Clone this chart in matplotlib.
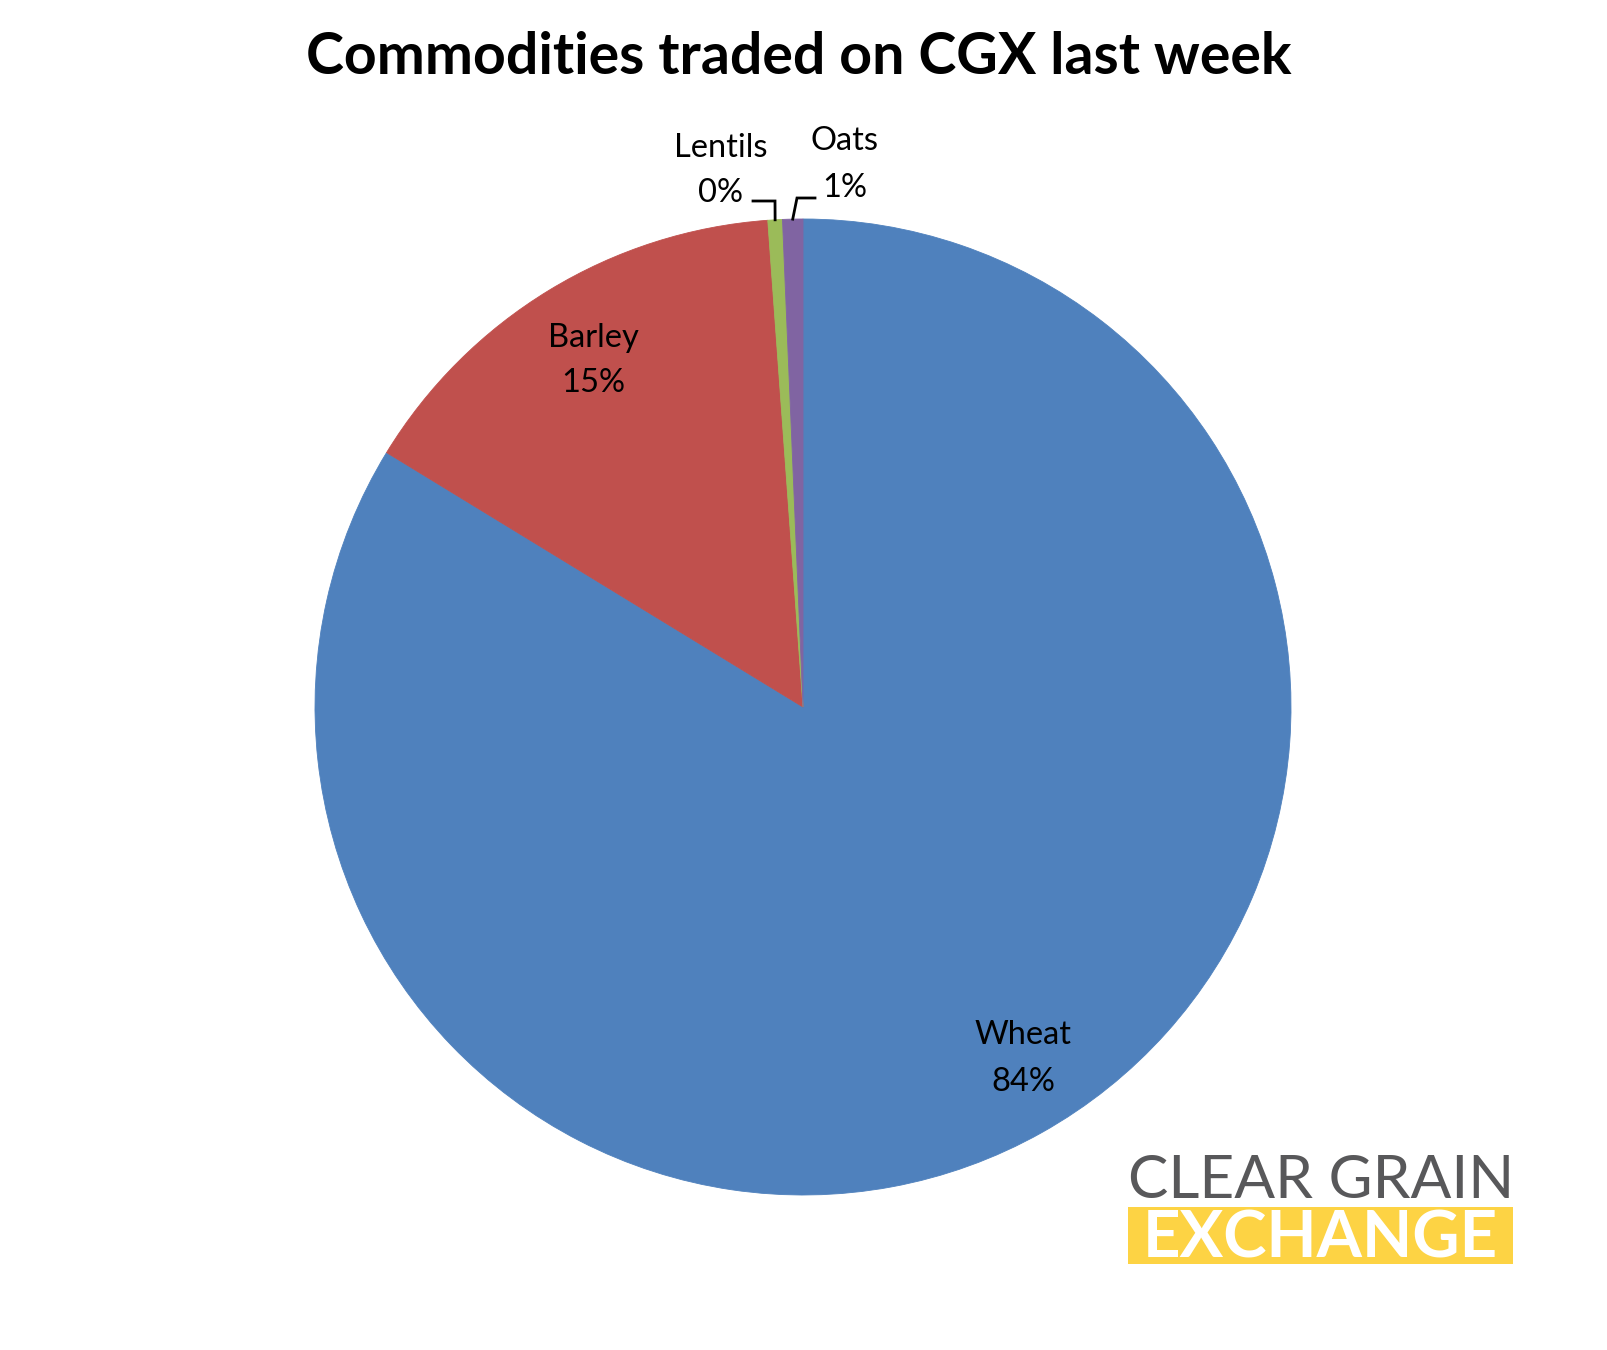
import numpy as np
import matplotlib
matplotlib.use("Agg")
import matplotlib.pyplot as plt
from matplotlib.patches import Rectangle

# ---- data ----
categories = ["Wheat", "Barley", "Lentils", "Oats"]
shares = [83.73, 15.12, 0.48, 0.67]
colors = ["#4F81BD", "#C0504D", "#9BBB59", "#8064A2"]
title = "Commodities traded on CGX last week"

W, H = 1608, 1350
DPI = 100
fig = plt.figure(figsize=(W / DPI, H / DPI), dpi=DPI)
ax = fig.add_axes([0, 0, 1, 1])

def Y(y):
    return H - y

cx, cy, R = 803, 707, 488
wedges, _ = ax.pie(shares, colors=colors, startangle=90, counterclock=False,
                   center=(cx, Y(cy)), radius=R,
                   wedgeprops=dict(linewidth=0.6, antialiased=True))
for w, c in zip(wedges, colors):
    w.set_edgecolor(c)
ax.set_xlim(0, W)
ax.set_ylim(0, H)
ax.set_aspect("auto")
ax.axis("off")

renderer = fig.canvas.get_renderer()

def fit(t, width):
    fs = t.get_fontsize()
    w = t.get_window_extent(renderer).width
    t.set_fontsize(fs * width / w)

# title
tt = ax.text(799, Y(74), title, ha="center", va="baseline",
             fontfamily="Lato", fontweight="bold", fontsize=40, color="black")
fit(tt, 985)

total = sum(shares)
pct = [f"{round(v / total * 100):d}%" for v in shares]

# label positions (pixel coords: x centre, name baseline, pct baseline)
label_pos = {
    "Wheat": (1023, 1044, 1091),
    "Barley": (593, 347, 392),
    "Lentils": (721, 157, 202),
    "Oats": (845, 150, 197),
}
LFS = 23.5
for name, p in zip(categories, pct):
    x, b1, b2 = label_pos[name]
    ax.text(x, Y(b1), name, ha="center", va="baseline", fontfamily="Lato",
            fontsize=LFS, color="black")
    ax.text(x, Y(b2), p, ha="center", va="baseline", fontfamily="Lato",
            fontsize=LFS, color="black")

# leader lines for the small slices
theta = np.cumsum([0] + shares) / total * 360.0
leaders = {2: (753, 201, 775), 3: (815, 198, 797)}
for i, (x0, y0, xk) in leaders.items():
    mid = 90 - (theta[i] + theta[i + 1]) / 2.0
    ex = cx + R * np.cos(np.radians(mid))
    ey = Y(cy) + R * np.sin(np.radians(mid))
    ax.plot([x0, xk, ex], [Y(y0), Y(y0), ey], color="black", lw=2,
            solid_joinstyle="miter")

# logo
t1 = ax.text(1128, Y(1198), "CLEAR GRAIN", ha="left", va="baseline",
             fontfamily="Lato", fontweight="normal", fontsize=30, color="#58585A")
fit(t1, 385)
ax.add_patch(Rectangle((1128, Y(1264)), 385, 57, facecolor="#FDD344",
                       edgecolor="none"))
t2 = ax.text(1320, Y(1258), "EXCHANGE", ha="center", va="baseline",
             fontfamily="Lato", fontweight="bold", fontsize=47, color="white")

fig.savefig("out.png", dpi=DPI, facecolor="white")
